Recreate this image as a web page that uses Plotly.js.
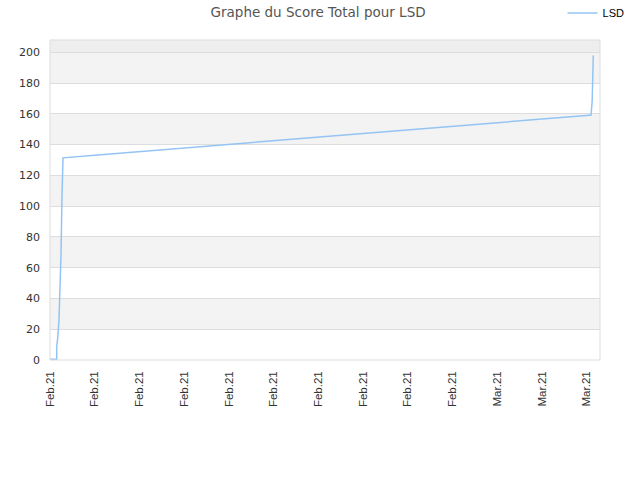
<!DOCTYPE html>
<html>
<head>
<meta charset="utf-8">
<script src="https://cdn.plot.ly/plotly-3.0.1.min.js"></script>
<style>
  html, body { margin: 0; padding: 0; background: #fff; }
  #chart { width: 640px; height: 480px; }
</style>
</head>
<body>
<div id="chart"></div>
<script>
// position le long de l'axe (1 unité = 1 graduation) et score total
const xPos = [0, 0.15, 0.15, 0.172, 0.201, 0.224, 0.246, 0.268, 0.291,
              1, 2, 3, 4, 5, 6, 7, 8, 9, 10, 11, 12, 12.1, 12.125, 12.15];
const score = [0.5, 0.5, 8.6, 14.1, 26, 44.4, 68.8, 106, 131.4,
               133.1, 135.4, 137.8, 140.1, 142.5, 144.9, 147.2, 149.6, 151.9, 154.3, 156.6, 159.0,
               159.2, 168.2, 198];
const tickPos = [0, 1, 2, 3, 4, 5, 6, 7, 8, 9, 10, 11, 12];
const tickLabels = ["Feb.21", "Feb.21", "Feb.21", "Feb.21", "Feb.21", "Feb.21", "Feb.21",
                    "Feb.21", "Feb.21", "Feb.21", "Mar.21", "Mar.21", "Mar.21"];

// bandes alternées du fond
const shapes = [];
for (let v = 20; v < 200; v += 40) {
  shapes.push({type: 'rect', xref: 'paper', yref: 'y', x0: 0, x1: 1, y0: v, y1: v + 20,
               fillcolor: '#f3f3f3', line: {width: 0}, layer: 'below'});
}
shapes.push({type: 'rect', xref: 'paper', yref: 'y', x0: 0, x1: 1, y0: 200, y1: 208,
             fillcolor: '#eeeeee', line: {width: 0}, layer: 'below'});
shapes.push({type: 'rect', xref: 'paper', yref: 'paper', x0: 0, x1: 1, y0: 0, y1: 1,
             line: {color: '#dddddd', width: 1}});

Plotly.newPlot('chart', [{
  x: xPos,
  y: score,
  name: 'LSD',
  mode: 'lines',
  type: 'scatter',
  line: {color: '#94c4f4', width: 1.5}
}], {
  width: 640,
  height: 480,
  margin: {l: 50, r: 40, t: 40, b: 120, autoexpand: false},
  paper_bgcolor: '#fff',
  plot_bgcolor: '#fff',
  font: {family: 'DejaVu Sans, sans-serif', size: 11, color: '#333'},
  title: {text: 'Graphe du Score Total pour LSD', x: 0.497, y: 0.975, yanchor: 'middle',
          font: {size: 13.5, color: '#555'}},
  showlegend: true,
  legend: {xref: 'container', yref: 'container', x: 0.879, y: 0.973,
           xanchor: 'left', yanchor: 'middle', itemwidth: 30,
           font: {family: 'Liberation Sans, Arial, sans-serif', size: 11, color: '#000'},
           bgcolor: 'rgba(0,0,0,0)'},
  xaxis: {
    range: [0, 12.3],
    tickvals: tickPos,
    ticktext: tickLabels,
    tickangle: -90,
    showgrid: false,
    zeroline: false,
    showline: false,
    ticks: '',
    ticklabelstandoff: 8,
    fixedrange: true,
    tickfont: {family: 'Liberation Sans, Arial, sans-serif', size: 11.5, color: '#333'}
  },
  yaxis: {
    range: [0, 208],
    dtick: 20,
    tick0: 0,
    showgrid: true,
    gridcolor: '#dddddd',
    zeroline: false,
    showline: false,
    ticks: '',
    ticklabelstandoff: 9,
    tickfont: {size: 11, color: '#333'}
  },
  shapes: shapes
}, {displayModeBar: false, staticPlot: true});
</script>
</body>
</html>
